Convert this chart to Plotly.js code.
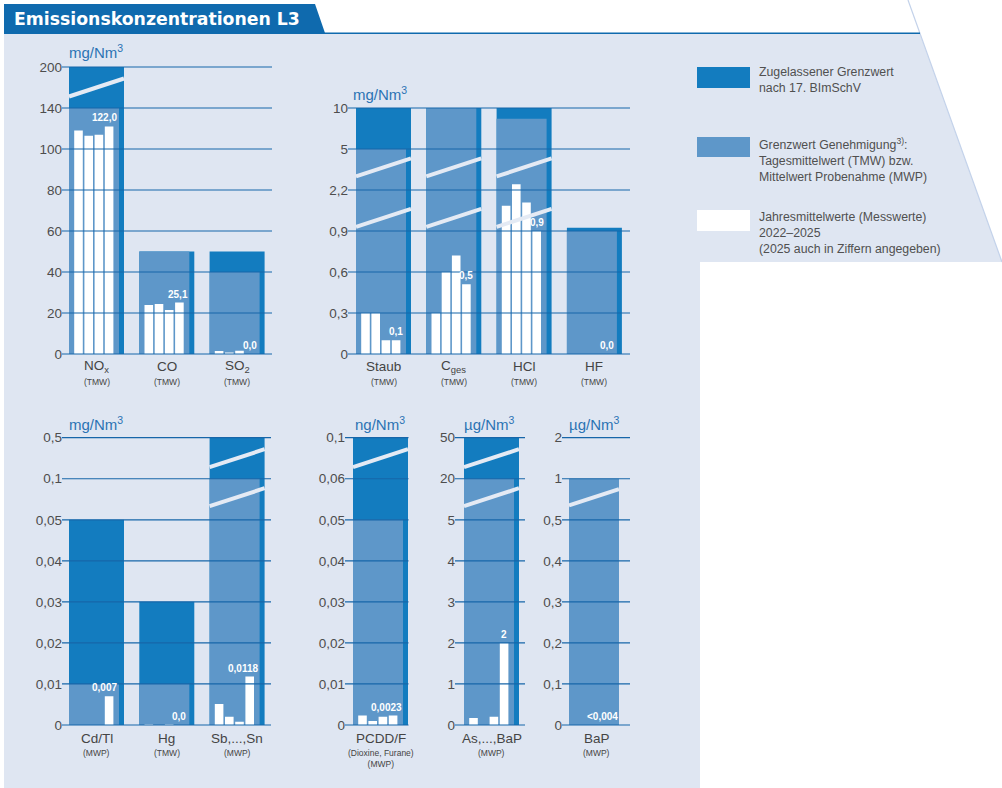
<!DOCTYPE html>
<html>
<head>
<meta charset="utf-8">
<script src="https://cdn.plot.ly/plotly-3.0.1.min.js"></script>
<style>html,body{margin:0;padding:0;background:#fff}</style>
</head>
<body>
<div id="chart" style="width:1002px;height:788px"></div>
<script>
// ---- data ----
// rows = substances, columns = years 2022..2025

const catsA = ['NO<sub>x</sub>', 'CO', 'SO<sub>2</sub>']
const subA = ['(TMW)', '(TMW)', '(TMW)']
const ticksA = [0, 20, 40, 60, 80, 100, 140, 200]
const limitA = [200, 50, 50]
const permitA = [140, 50, 40]
const measA = [[118, 113, 114, 122], [23.9, 24.4, 21.5, 25.1], [1.5, 0.7, 1.6, 0]]
const labelA = ['122,0', '25,1', '0,0']

const catsB = ['Staub', 'C<sub>ges</sub>', 'HCl', 'HF']
const subB = ['(TMW)', '(TMW)', '(TMW)', '(TMW)']
const ticksB = [0, 0.3, 0.6, 0.9, 2.2, 5, 10]
const limitB = [10, 10, 10, 1]
const permitB = [5, 10, 8.7, 0.9]
const measB = [[0.3, 0.3, 0.1, 0.1], [0.3, 0.6, 0.72, 0.51], [1.7, 2.6, 1.8, 0.9], [0, 0, 0, 0]]
const labelB = ['0,1', '0,5', '0,9', '0,0']

const catsC = ['Cd/Tl', 'Hg', 'Sb,...,Sn']
const subC = ['(MWP)', '(TMW)', '(MWP)']
const ticksC = [0, 0.01, 0.02, 0.03, 0.04, 0.05, 0.1, 0.5]
const limitC = [0.05, 0.03, 0.5]
const permitC = [0.01, 0.01, 0.1]
const measC = [[0, 0, 0, 0.007], [0.0002, 0, 0.0002, 0], [0.0051, 0.002, 0.0008, 0.0118]]
const labelC = ['0,007', '0,0', '0,0118']

const catsD = ['PCDD/F']
const subD = ['(Dioxine, Furane)<br>(MWP)']
const ticksD = [0, 0.01, 0.02, 0.03, 0.04, 0.05, 0.06, 0.1]
const limitD = [0.1]
const permitD = [0.05]
const measD = [[0.0023, 0.001, 0.002, 0.0023]]
const labelD = ['0,0023']

const catsE = ['As,...,BaP']
const subE = ['(MWP)']
const ticksE = [0, 1, 2, 3, 4, 5, 20, 50]
const limitE = [50]
const permitE = [20]
const measE = [[0.17, 0, 0.2, 2]]
const labelE = ['2']

const catsF = ['BaP']
const subF = ['(MWP)']
const ticksF = [0, 0.1, 0.2, 0.3, 0.4, 0.5, 1, 2]
const limitF = [null]
const permitF = [1]
const measF = [[0, 0, 0, 0]]
const labelF = ['&lt;0,004']

// ---- styling / geometry ----
const W = 1002, H = 788
const DARK = '#137cbf', MED = '#5e97c9', BG = '#dfe6f2', GRID = '#1766a9', BANNER = '#0f6aae'
const BREAKC = '#e4eaf4'
const P = 70.3          // px per group
const WD = 55, WM = 50  // bar widths px
const WS = 5.2, WP = 10.2, WW = 8.6  // white bars: start, pitch, width
const FONT = 'Liberation Sans, Arial, sans-serif'

const X = px => px / W
const Y = py => 1 - py / H

// piecewise position on a broken axis: each tick is one step
const pos = (v, ticks) => {
  if (v === null) return null
  for (let i = 0; i < ticks.length - 1; i++) {
    if (v <= ticks[i + 1]) return i + (v - ticks[i]) / (ticks[i + 1] - ticks[i])
  }
  return ticks.length - 1
}
const fmt = v => String(v).replace('.', ',')
// rough width of a bold 10px label, to keep it inside the bar
const labelWidth = t => t.replace('&lt;', '<').split('').reduce((s, c) => s + (c === ',' ? 2.8 : 5.6), 0)

const panels = [
  {cats: catsA, sub: subA, ticks: ticksA, limit: limitA, permit: permitA, meas: measA, labels: labelA,
   breaks: [6.5], left: 62, right: 272, first: 69, base: 354, top: 67, unit: 'mg/Nm<sup>3</sup>', ux: 96, uy: 52, catY: 366, subY: 381.5},
  {cats: catsB, sub: subB, ticks: ticksB, limit: limitB, permit: permitB, meas: measB, labels: labelB,
   breaks: [4.55, 3.32], left: 348, right: 630, first: 356, base: 354, top: 108, unit: 'mg/Nm<sup>3</sup>', ux: 380, uy: 93, catY: 366, subY: 381.5},
  {cats: catsC, sub: subC, ticks: ticksC, limit: limitC, permit: permitC, meas: measC, labels: labelC,
   breaks: [6.5, 5.55], left: 62, right: 271, first: 69, base: 725, top: 437.7, unit: 'mg/Nm<sup>3</sup>', ux: 96, uy: 424, catY: 738, subY: 752.7},
  {cats: catsD, sub: subD, ticks: ticksD, limit: limitD, permit: permitD, meas: measD, labels: labelD,
   breaks: [6.5], left: 345, right: 408.5, first: 353, base: 725, top: 437.7, unit: 'ng/Nm<sup>3</sup>', ux: 380, uy: 424, catY: 738, subY: 758.5},
  {cats: catsE, sub: subE, ticks: ticksE, limit: limitE, permit: permitE, meas: measE, labels: labelE,
   breaks: [6.5, 5.55], left: 455, right: 525, first: 464, base: 725, top: 437.7, unit: 'µg/Nm<sup>3</sup>', ux: 489, uy: 424, catY: 738, subY: 752.7},
  {cats: catsF, sub: subF, ticks: ticksF, limit: limitF, permit: permitF, meas: measF, labels: labelF,
   breaks: [5.55], left: 562, right: 630, first: 569, base: 725, top: 437.7, unit: 'µg/Nm<sup>3</sup>', ux: 594, uy: 424, catY: 738, subY: 752.7}
]

const traces = []
const shapes = []
const annotations = []
const layout = {
  width: W, height: H,
  margin: {l: 0, r: 0, t: 0, b: 0},
  paper_bgcolor: '#ffffff',
  plot_bgcolor: 'rgba(0,0,0,0)',
  showlegend: false,
  barmode: 'overlay',
  font: {family: FONT, color: '#4a4a4a'},
  shapes: shapes,
  annotations: annotations
}

// page background, banner
const path = pts => 'M ' + pts.map(p => X(p[0]) + ',' + Y(p[1])).join(' L ') + ' Z'
shapes.push({type: 'path', xref: 'paper', yref: 'paper', layer: 'below', line: {width: 0}, fillcolor: BG,
  path: path([[4, 34], [920, 34], [1002, 262], [700, 262], [700, 788], [4, 788]])})
shapes.push({type: 'line', xref: 'paper', yref: 'paper', layer: 'below', x0: X(908), y0: Y(0), x1: X(1002), y1: Y(262),
  line: {color: '#c3d2ea', width: 1.2}})
shapes.push({type: 'path', xref: 'paper', yref: 'paper', layer: 'below', line: {width: 0}, fillcolor: BANNER,
  path: path([[4, 4], [315, 4], [325, 33], [4, 33]])})
shapes.push({type: 'line', xref: 'paper', yref: 'paper', layer: 'below', x0: X(4), y0: Y(33.2), x1: X(920), y1: Y(33.2),
  line: {color: BANNER, width: 1.6}})
annotations.push({xref: 'paper', yref: 'paper', x: X(12), y: Y(18.5), xanchor: 'left', yanchor: 'middle', showarrow: false,
  text: '<b>Emissionskonzentrationen L3</b>', font: {family: 'DejaVu Sans, sans-serif', size: 17.3, color: '#ffffff'}})

panels.forEach((p, k) => {
  const n = k + 1
  const sfx = n === 1 ? '' : String(n)
  const xr = 'x' + sfx, yr = 'y' + sfx
  const nT = p.ticks.length - 1
  const s = (p.base - p.top) / nT
  const pad = 0.03
  layout['xaxis' + sfx] = {
    domain: [X(p.left), X(p.right)],
    range: [(p.left - p.first) / P, (p.right - p.first) / P],
    visible: false, fixedrange: true
  }
  layout['yaxis' + sfx] = {
    domain: [Y(p.base + pad * s), Y(p.top - pad * s)],
    range: [-pad, nT + pad],
    tickvals: p.ticks.map((t, i) => i),
    ticktext: p.ticks.map(fmt),
    showgrid: false, zeroline: false, showline: false, ticks: '',
    ticklabelstandoff: -1,
    tickfont: {family: FONT, size: 13.5, color: '#4d4d4d'},
    anchor: xr, fixedrange: true
  }
  const gx = p.cats.map((c, i) => i)

  traces.push({type: 'bar', x: gx, y: p.limit.map(v => pos(v, p.ticks)), width: WD / P, offset: 0,
    marker: {color: DARK, line: {width: 0}}, xaxis: xr, yaxis: yr, hoverinfo: 'skip'})
  traces.push({type: 'bar', x: gx, y: p.permit.map(v => pos(v, p.ticks)), width: WM / P, offset: 0,
    marker: {color: MED, line: {width: 0}}, xaxis: xr, yaxis: yr, hoverinfo: 'skip'})
  for (let yr_ = 0; yr_ < 4; yr_++) {
    traces.push({type: 'bar', x: gx, y: p.meas.map(m => pos(m[yr_], p.ticks)), width: WW / P, offset: (WS + yr_ * WP) / P,
      marker: {color: '#ffffff', line: {width: 0}}, xaxis: xr, yaxis: yr, hoverinfo: 'skip'})
  }

  // axis-break marks across the bars
  const slope = 18 / 55 / s
  p.breaks.forEach(b => {
    gx.forEach(g => {
      const dTop = pos(p.limit[g], p.ticks), mTop = pos(p.permit[g], p.ticks)
      const w = (dTop !== null && dTop > b) ? WD : (mTop !== null && mTop > b ? WM : 0)
      if (!w) return
      shapes.push({type: 'line', xref: xr, yref: yr, layer: 'above',
        x0: g, x1: g + w / P, y0: b - slope * w / 2, y1: b + slope * w / 2,
        line: {color: BREAKC, width: 4}})
    })
  })

  // grid lines drawn on top of the bars
  p.ticks.forEach((t, i) => {
    shapes.push({type: 'line', xref: xr + ' domain', yref: yr, layer: 'above', x0: 0, x1: 1, y0: i, y1: i,
      line: {color: GRID, width: 1.2}})
  })

  gx.forEach(g => {
    // value label of 2025, kept inside the permit bar
    const cx = Math.min(WS + 3 * WP + WW / 2, WM - 1.5 - labelWidth(p.labels[g]) / 2)
    annotations.push({xref: xr, yref: yr, x: g + cx / P, y: pos(p.meas[g][3], p.ticks),
      xanchor: 'center', yanchor: 'bottom', showarrow: false, yshift: 1,
      text: '<b>' + p.labels[g] + '</b>', font: {family: FONT, size: 10, color: '#ffffff'}})
    annotations.push({xref: xr, yref: 'paper', x: g + WD / 2 / P, y: Y(p.catY), xanchor: 'center', yanchor: 'middle',
      showarrow: false, text: p.cats[g], font: {family: FONT, size: 13.5, color: '#444444'}})
    annotations.push({xref: xr, yref: 'paper', x: g + WD / 2 / P, y: Y(p.subY), xanchor: 'center', yanchor: 'middle',
      showarrow: false, text: p.sub[g], font: {family: FONT, size: 8.5, color: '#444444'}})
  })

  // unit title
  annotations.push({xref: 'paper', yref: 'paper', x: X(p.ux), y: Y(p.uy), xanchor: 'center', yanchor: 'middle',
    showarrow: false, text: p.unit, font: {family: FONT, size: 15, color: '#2b73b4'}})
})

// legend (drawn by hand to match the large swatches)
const legendItems = [
  {color: DARK, y0: 67, y1: 88, cy: 80,
   text: 'Zugelassener Grenzwert<br>nach 17. BImSchV'},
  {color: MED, y0: 137, y1: 157, cy: 159.5,
   text: 'Grenzwert Genehmigung<sup>3)</sup>:<br>Tagesmittelwert (TMW) bzw.<br>Mittelwert Probenahme (MWP)'},
  {color: '#ffffff', y0: 210, y1: 231, cy: 232.5,
   text: 'Jahresmittelwerte (Messwerte)<br>2022–2025<br>(2025 auch in Ziffern angegeben)'}
]
legendItems.forEach(it => {
  shapes.push({type: 'rect', xref: 'paper', yref: 'paper', layer: 'below', x0: X(697), x1: X(750), y0: Y(it.y0), y1: Y(it.y1),
    fillcolor: it.color, line: {width: 0}})
  annotations.push({xref: 'paper', yref: 'paper', x: X(757), y: Y(it.cy), xanchor: 'left', yanchor: 'middle', align: 'left',
    showarrow: false, text: it.text, font: {family: FONT, size: 12.3, color: '#505050'}})
})

Plotly.newPlot('chart', traces, layout, {staticPlot: true, displayModeBar: false})
</script>
</body>
</html>
